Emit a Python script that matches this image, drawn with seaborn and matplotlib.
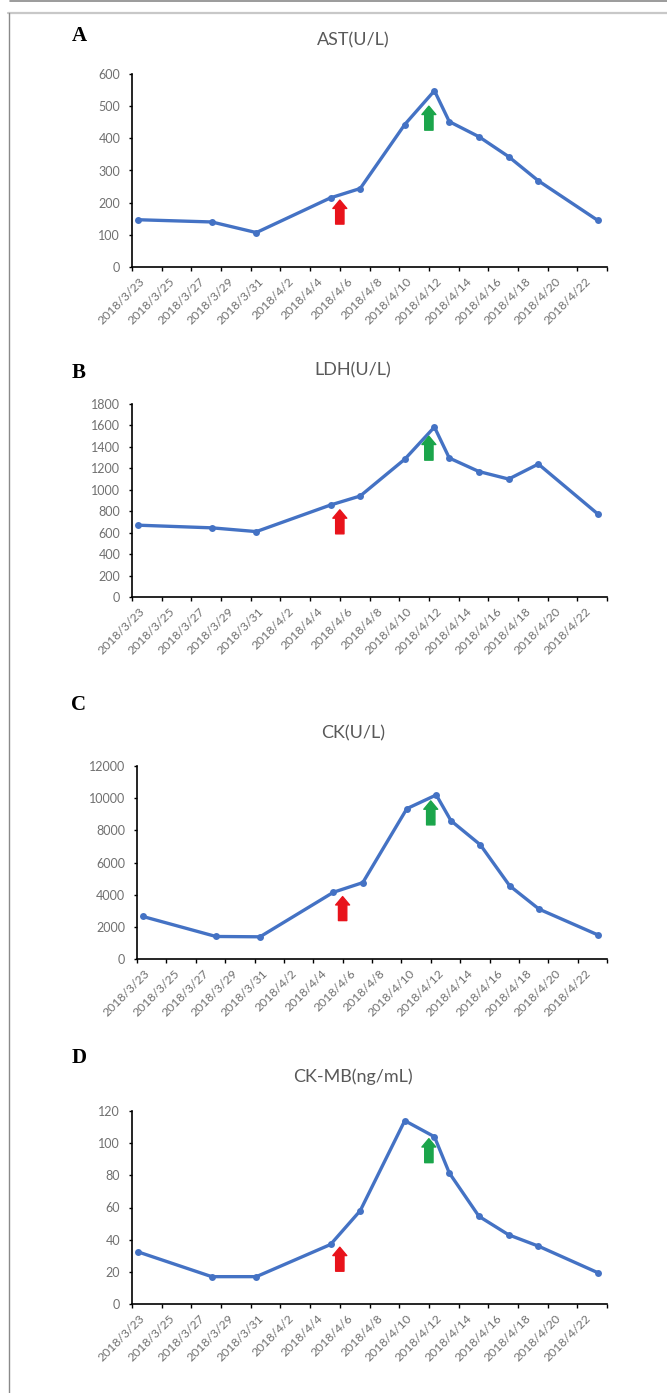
import pandas as pd
import seaborn as sns
import matplotlib
matplotlib.use("Agg")
import matplotlib.pyplot as plt
from matplotlib.lines import Line2D

sns.set_theme(style="white")
plt.rcParams['font.family'] = ['Lato', 'DejaVu Sans']

# sampling times (blood drawn in the morning)
sample_times = ["2018-03-23 09:00", "2018-03-28 09:00", "2018-03-31 09:00", "2018-04-05 09:00",
                "2018-04-07 09:00", "2018-04-10 09:00", "2018-04-12 09:00", "2018-04-13 09:00",
                "2018-04-15 09:00", "2018-04-17 09:00", "2018-04-19 09:00", "2018-04-23 09:00"]

ast = [147, 140, 107, 215, 244, 443, 548, 452, 405, 343, 268, 145]
ldh = [670, 645, 610, 858, 942, 1285, 1585, 1296, 1170, 1100, 1240, 775]
ck = [2650, 1400, 1380, 4150, 4750, 9350, 10200, 8600, 7100, 4550, 3100, 1500]
ckmb = [32.5, 17, 17, 37, 58, 114, 104, 81.5, 54.5, 43, 36, 19.5]

panel_letters = ["A", "B", "C", "D"]
titles = ["AST(U/L)", "LDH(U/L)", "CK(U/L)", "CK-MB(ng/mL)"]
y_max = [600, 1800, 12000, 120]
y_step = [100, 200, 2000, 20]

tick_dates = pd.date_range("2018-03-23", "2018-04-24", freq="2D")
label_dates = pd.date_range("2018-03-23", "2018-04-22", freq="2D")
tick_labels = [f"{d.year}/{d.month}/{d.day}" for d in label_dates]

# arrows: red on 4/6, green on 4/12; tip heights per panel
red_arrow_date = "2018-04-06"
green_arrow_date = "2018-04-12"
red_tip = [208, 813, 3880, 35.3]
green_tip = [500, 1500, 9830, 102.8]

df = pd.DataFrame({"time": pd.to_datetime(sample_times), "AST": ast, "LDH": ldh,
                   "CK": ck, "CKMB": ckmb})
cols = ["AST", "LDH", "CK", "CKMB"]

W, H = 667, 1393
fig = plt.figure(figsize=(W / 100, H / 100), dpi=100)
fig.patch.set_facecolor("white")


def rect(l, t, r, b):
    return [l / W, 1 - b / H, (r - l) / W, (b - t) / H]


# axes boxes in pixels: left, top, right, bottom
boxes = [(132, 74, 607, 267), (132, 404, 607, 597), (137, 766, 607, 959), (132, 1111, 607, 1304)]
title_y = [40, 370, 733, 1077]
letter_y = [36, 373, 705, 1058]

grey = "#707070"
blue = "#4472C4"
arrow_style = "simple,head_length=0.6,head_width=1.0,tail_width=0.6"

for i, col in enumerate(cols):
    ax = fig.add_axes(rect(*boxes[i]))
    sns.lineplot(data=df, x="time", y=col, ax=ax, color=blue, linewidth=2.4,
                 marker="o", markersize=5, markeredgewidth=0)
    ax.set_xlim(tick_dates[0], tick_dates[-1])
    ax.set_ylim(0, y_max[i])
    ax.set_yticks(range(0, y_max[i] + 1, y_step[i]))
    ax.set_xticks(tick_dates)
    ax.set_xticklabels([])
    ax.set_xticks(label_dates + pd.Timedelta(hours=12), minor=True)
    ax.set_xticklabels(tick_labels, minor=True, rotation=45, ha="right",
                       rotation_mode="anchor", fontsize=8.8, color=grey)
    ax.tick_params(axis="x", which="major", direction="out", length=3, width=1, color="black", bottom=True)
    ax.tick_params(axis="x", which="minor", length=0, pad=6)
    ax.tick_params(axis="y", direction="out", length=2.5, width=1, color="black", left=True,
                   labelsize=9, labelcolor=grey, pad=6)
    ax.set_xlabel("")
    ax.set_ylabel("")
    for s in ["top", "right"]:
        ax.spines[s].set_visible(False)
    for s in ["left", "bottom"]:
        ax.spines[s].set_color("black")
        ax.spines[s].set_linewidth(1.2)

    ax.annotate("", xy=(pd.Timestamp(red_arrow_date), red_tip[i]), xytext=(0, -24),
                textcoords="offset pixels",
                arrowprops=dict(arrowstyle=arrow_style, color="#e8131b",
                                mutation_scale=10, shrinkA=0, shrinkB=0))
    ax.annotate("", xy=(pd.Timestamp(green_arrow_date), green_tip[i]), xytext=(0, -24),
                textcoords="offset pixels",
                arrowprops=dict(arrowstyle=arrow_style, color="#1ba54b",
                                mutation_scale=10, shrinkA=0, shrinkB=0))

    fig.text(353 / W, 1 - title_y[i] / H, titles[i], ha="center", va="center",
             fontsize=13, color="#595959")
    fig.text(79 / W, 1 - letter_y[i] / H, panel_letters[i], ha="center", va="center",
             fontsize=15, fontweight="bold", family="Liberation Serif", color="black")

# outer frame lines of the figure
fig.add_artist(Line2D([10 / W, 1], [1 - 0.8 / H, 1 - 0.8 / H], color="#8a8a8a", lw=1.2))
fig.add_artist(Line2D([8 / W, 1], [1 - 13 / H, 1 - 13 / H], color="#c8c8c8", lw=1.6))
fig.add_artist(Line2D([9 / W, 9 / W], [0, 1 - 13 / H], color="#8a8a8a", lw=1.0))

fig.savefig("out.png", dpi=100)
